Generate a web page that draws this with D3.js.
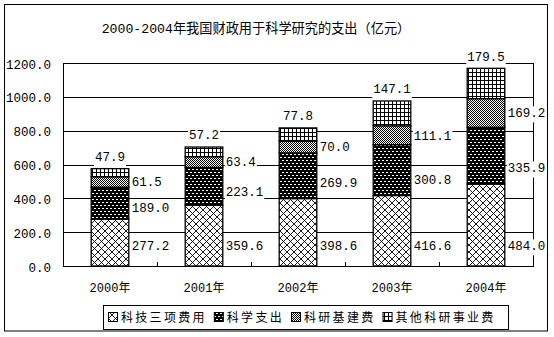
<!DOCTYPE html>
<html>
<head>
<meta charset="utf-8">
<script src="https://cdn.jsdelivr.net/npm/d3@7"></script>
<style>
  html, body { margin: 0; padding: 0; background: #fff; }
  svg { display: block; }
  .num { font-family: "Liberation Mono", "DejaVu Sans Mono", monospace; font-size: 12.5px; fill: #000; }
  .cjk { font-family: "Liberation Mono", "Noto Sans CJK SC", monospace; fill: #000; }
</style>
</head>
<body>
<svg id="chart" width="554" height="337"></svg>
<script>
// 2000-2004 national fiscal spending on science research (100 million yuan)
const years = ["2000年", "2001年", "2002年", "2003年", "2004年"];
const seriesNames = ["科技三项费用", "科学支出", "科研基建费", "其他科研事业费"];
const techThree   = [277.2, 359.6, 398.6, 416.6, 484.0];
const science     = [189.0, 223.1, 269.9, 300.8, 335.9];
const construct   = [61.5, 63.4, 70.0, 111.1, 169.2];
const otherRes    = [47.9, 57.2, 77.8, 147.1, 179.5];
const yTicks      = [0, 200, 400, 600, 800, 1000, 1200];
const title = "2000-2004年我国财政用于科学研究的支出（亿元）";

const seriesValues = [techThree, science, construct, otherRes];
const patternIds = ["pCross", "pDark", "pLight", "pGrid"];

const svg = d3.select("#chart");
const W = 554, H = 337;
const plot = { left: 63, right: 533, top: 63, bottom: 266 };

svg.append("rect").attr("width", W).attr("height", H).attr("fill", "#fff");

// fill patterns
const defs = svg.append("defs");
{
  const p = defs.append("pattern").attr("id", "pCross").attr("patternUnits", "userSpaceOnUse")
    .attr("width", 7).attr("height", 7);
  p.append("rect").attr("width", 7).attr("height", 7).attr("fill", "#fff");
  p.append("path").attr("d", "M0,0L7,7M7,0L0,7M-1,6L1,8M6,-1L8,1M-1,1L1,-1M6,8L8,6")
    .attr("stroke", "#000").attr("stroke-width", 0.9).attr("fill", "none");
}
{
  const p = defs.append("pattern").attr("id", "pDark").attr("patternUnits", "userSpaceOnUse")
    .attr("width", 4).attr("height", 6);
  p.append("rect").attr("width", 4).attr("height", 6).attr("fill", "#000");
  p.append("rect").attr("x", 0).attr("y", 1).attr("width", 2).attr("height", 1).attr("fill", "#fff");
  p.append("rect").attr("x", 2).attr("y", 4).attr("width", 2).attr("height", 1).attr("fill", "#fff");
}
{
  const p = defs.append("pattern").attr("id", "pLight").attr("patternUnits", "userSpaceOnUse")
    .attr("width", 2).attr("height", 2);
  p.append("rect").attr("width", 2).attr("height", 2).attr("fill", "#fff");
  p.append("rect").attr("x", 0).attr("y", 0).attr("width", 1).attr("height", 1).attr("fill", "#000");
  p.append("rect").attr("x", 1).attr("y", 1).attr("width", 1).attr("height", 1).attr("fill", "#000");
}
{
  const p = defs.append("pattern").attr("id", "pGrid").attr("patternUnits", "userSpaceOnUse")
    .attr("width", 4).attr("height", 4);
  p.append("rect").attr("width", 4).attr("height", 4).attr("fill", "#fff");
  p.append("path").attr("d", "M0.5,0V4M0,0.5H4").attr("stroke", "#000").attr("stroke-width", 1);
}

// outer frame
svg.append("rect").attr("x", 4.5).attr("y", 4.5).attr("width", 543).attr("height", 326.5)
  .attr("fill", "none").attr("stroke", "#000").attr("stroke-width", 1);

// title
svg.append("text").attr("class", "cjk").attr("x", 256).attr("y", 28).attr("dy", "0.35em")
  .attr("text-anchor", "middle").style("font-size", "13.2px").text(title);

const x = d3.scaleBand().domain(years).range([plot.left, plot.right])
  .paddingInner(0.6).paddingOuter(0.3);
const y = d3.scaleLinear().domain([0, 1200]).range([plot.bottom, plot.top]);

// gridlines
svg.append("g").selectAll("line").data(yTicks).join("line")
  .attr("x1", plot.left).attr("x2", plot.right)
  .attr("y1", d => Math.round(y(d)) + 0.5).attr("y2", d => Math.round(y(d)) + 0.5)
  .attr("stroke", "#000").attr("stroke-width", 1);

// plot frame
svg.append("rect").attr("x", plot.left + 0.5).attr("y", Math.round(y(1200)) + 0.5)
  .attr("width", plot.right - plot.left).attr("height", Math.round(y(0)) - Math.round(y(1200)))
  .attr("fill", "none").attr("stroke", "#000");

// y axis labels
const yAxis = d3.axisLeft(y).tickValues(yTicks).tickFormat(d3.format(".1f")).tickSize(0).tickPadding(12);
const gy = svg.append("g").attr("transform", `translate(${plot.left},0)`).call(yAxis);
gy.select(".domain").remove();
gy.selectAll("text").attr("class", "num").attr("fill", "#000").attr("dy", "0.4em")
  .style("font-family", '"Liberation Mono", monospace').style("font-size", "12.5px");

// x axis: inner ticks at category boundaries, labels at band centres
const step = x.step();
const boundaries = years.slice(1).map(yr => x(yr) - step * x.paddingInner() / 2);
svg.append("g").selectAll("line").data(boundaries).join("line")
  .attr("x1", d => Math.round(d) + 0.5).attr("x2", d => Math.round(d) + 0.5)
  .attr("y1", Math.round(y(0))).attr("y2", Math.round(y(0)) - 4)
  .attr("stroke", "#000");
svg.append("g").selectAll("text").data(years).join("text")
  .attr("class", "cjk").style("font-size", "12px")
  .attr("x", d => x(d) + x.bandwidth() / 2).attr("y", 288).attr("dy", "0.35em")
  .attr("text-anchor", "middle").text(d => d);

// stacked data
const table = years.map((yr, i) => {
  const row = { year: yr };
  seriesNames.forEach((s, k) => row[s] = seriesValues[k][i]);
  return row;
});
const stacked = d3.stack().keys(seriesNames)(table);

const gBars = svg.append("g");
stacked.forEach((layer, k) => {
  gBars.selectAll(null).data(layer).join("rect")
    .attr("x", d => x(d.data.year))
    .attr("width", x.bandwidth())
    .attr("y", d => y(d[1]))
    .attr("height", d => y(d[0]) - y(d[1]))
    .attr("fill", `url(#${patternIds[k]})`)
    .attr("stroke", "#000").attr("stroke-width", 1.3);
});

// value labels with white backing boxes
const gLab = svg.append("g");
function addLabel(cx, cy, str, anchor) {
  const t = gLab.append("text").attr("class", "num").attr("x", cx).attr("y", cy)
    .attr("dy", "0.35em").attr("text-anchor", anchor).text(str);
  const bb = t.node().getBBox();
  gLab.insert("rect", "text").attr("x", bb.x - 1).attr("y", bb.y - 1)
    .attr("width", bb.width + 2).attr("height", bb.height + 2).attr("fill", "#fff");
}
const fmt = d3.format(".1f");
stacked.forEach((layer, k) => {
  layer.forEach(d => {
    const v = d[1] - d[0];
    const xr = x(d.data.year) + x.bandwidth();
    const xc = x(d.data.year) + x.bandwidth() / 2;
    if (k === 0) addLabel(xr + 3, y(0) - 20, fmt(v), "start");
    // middle-segment labels sit in the lower part of their segment
    else if (k === 1) addLabel(xr + 3, Math.max((y(d[0]) + y(d[1])) / 2 + 5, y(d[0]) - 16), fmt(v), "start");
    else if (k === 2) addLabel(xr + 3, (y(d[0]) + y(d[1])) / 2, fmt(v), "start");
    else addLabel(xc, y(d[1]) - 12, fmt(v), "middle");
  });
});

// legend
const lg = svg.append("g");
lg.append("rect").attr("x", 103.5).attr("y", 305.5).attr("width", 405).attr("height", 24)
  .attr("fill", "#fff").attr("stroke", "#000");
let lx = 108;
seriesNames.forEach((s, k) => {
  lg.append("rect").attr("x", lx + 0.5).attr("y", 312.5).attr("width", 9).attr("height", 9)
    .attr("fill", `url(#${patternIds[k]})`).attr("stroke", "#000");
  const t = lg.append("text").attr("class", "cjk").attr("x", lx + 13).attr("y", 317.5)
    .attr("dy", "0.35em").style("font-size", "12px").style("letter-spacing", "2.3px").text(s);
  lx += 13 + t.node().getComputedTextLength() + 7;
});
</script>
</body>
</html>
